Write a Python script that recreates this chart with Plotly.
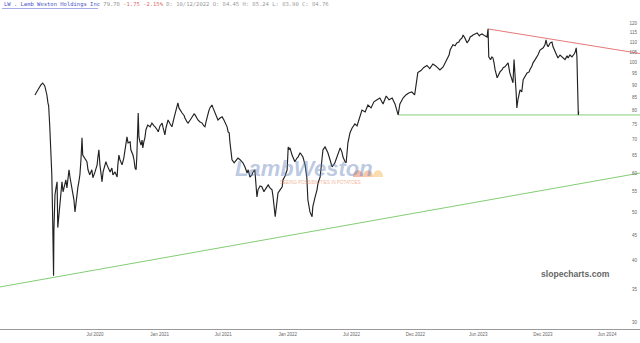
import plotly.graph_objects as go

# ---- price data ----
dates = [
 "2020-01-12","2020-01-18","2020-01-24","2020-01-29","2020-02-03","2020-02-09","2020-02-12","2020-02-15","2020-02-18","2020-02-20",
 "2020-02-23","2020-02-26","2020-02-29","2020-03-02","2020-03-03","2020-03-05","2020-03-06","2020-03-09","2020-03-12","2020-03-15",
 "2020-03-17","2020-03-20","2020-03-23","2020-03-26","2020-03-29","2020-04-01","2020-04-04","2020-04-09","2020-04-12","2020-04-15",
 "2020-04-18","2020-04-21","2020-04-23","2020-04-26","2020-04-29","2020-05-02","2020-05-05","2020-05-08","2020-05-11","2020-05-13",
 "2020-05-16","2020-05-19","2020-05-22","2020-05-25","2020-05-27","2020-06-02","2020-06-08","2020-06-11","2020-06-16","2020-06-22",
 "2020-06-25","2020-07-01","2020-07-07","2020-07-09","2020-07-12","2020-07-15","2020-07-18","2020-07-21","2020-07-24","2020-07-27",
 "2020-08-01","2020-08-04","2020-08-10","2020-08-13","2020-08-18","2020-08-21","2020-08-27","2020-09-02","2020-09-04","2020-09-07",
 "2020-09-10","2020-09-16","2020-09-21","2020-09-24","2020-09-27","2020-09-30","2020-10-03","2020-10-09","2020-10-11","2020-10-17",
 "2020-10-20","2020-10-23","2020-10-26","2020-10-28","2020-11-01","2020-11-03","2020-11-06","2020-11-09","2020-11-12","2020-11-14",
 "2020-11-17","2020-11-20","2020-11-23","2020-11-28","2020-12-05","2020-12-10","2020-12-16","2020-12-19","2020-12-25","2020-12-28",
 "2021-01-02","2021-01-08","2021-01-11","2021-01-16","2021-01-19","2021-01-25","2021-01-31","2021-02-05","2021-02-11","2021-02-14",
 "2021-02-19","2021-02-22","2021-02-25","2021-02-28","2021-03-06","2021-03-12","2021-03-14","2021-03-20","2021-03-23","2021-03-29",
 "2021-04-03","2021-04-09","2021-04-12","2021-04-17","2021-04-20","2021-04-26","2021-05-02","2021-05-07","2021-05-10","2021-05-13",
 "2021-05-16","2021-05-21","2021-05-24","2021-05-30","2021-06-02","2021-06-08","2021-06-13","2021-06-16","2021-06-22","2021-06-28",
 "2021-07-03","2021-07-06","2021-07-12","2021-07-15","2021-07-18","2021-07-20","2021-07-23","2021-07-26","2021-08-01","2021-08-04",
 "2021-08-09","2021-08-12","2021-08-18","2021-08-23","2021-08-26","2021-09-01","2021-09-07","2021-09-10","2021-09-15","2021-09-21",
 "2021-09-24","2021-09-29","2021-10-02","2021-10-05","2021-10-08","2021-10-14","2021-10-19","2021-10-25","2021-10-28","2021-11-03",
 "2021-11-06","2021-11-11","2021-11-17","2021-11-20","2021-11-23","2021-11-26","2021-11-29","2021-12-01","2021-12-04","2021-12-10",
 "2021-12-16","2021-12-18","2021-12-24","2021-12-30","2022-01-02","2022-01-04","2022-01-07","2022-01-13","2022-01-18","2022-01-21",
 "2022-01-27","2022-01-30","2022-02-05","2022-02-10","2022-02-13","2022-02-19","2022-02-24","2022-02-27","2022-03-05","2022-03-11",
 "2022-03-13","2022-03-19","2022-03-25","2022-03-28","2022-04-03","2022-04-08","2022-04-11","2022-04-17","2022-04-22","2022-04-25",
 "2022-05-01","2022-05-07","2022-05-15","2022-05-21","2022-05-24","2022-05-30","2022-06-04","2022-06-07","2022-06-13","2022-06-16",
 "2022-06-21","2022-06-27","2022-07-03","2022-07-11","2022-07-17","2022-07-25","2022-07-31","2022-08-09","2022-08-17","2022-08-26",
 "2022-09-03","2022-09-12","2022-09-20","2022-09-29","2022-10-08","2022-10-16","2022-10-25","2022-11-02","2022-11-11","2022-11-16",
 "2022-11-25","2022-12-03","2022-12-11","2022-12-20","2022-12-28","2023-01-06","2023-01-15","2023-01-23","2023-02-01","2023-02-09",
 "2023-02-18","2023-02-26","2023-03-10","2023-03-19","2023-03-25","2023-03-30","2023-04-05","2023-04-08","2023-04-13","2023-04-16",
 "2023-04-22","2023-04-27","2023-05-03","2023-05-06","2023-05-12","2023-05-15","2023-05-20","2023-05-23","2023-05-26","2023-06-01",
 "2023-06-04","2023-06-10","2023-06-12","2023-06-18","2023-06-24","2023-06-30","2023-07-02","2023-07-08","2023-07-11","2023-07-16",
 "2023-07-22","2023-07-25","2023-07-27","2023-08-01","2023-08-05","2023-08-08","2023-08-11","2023-08-14","2023-08-20","2023-08-23",
 "2023-08-28","2023-09-03","2023-09-06","2023-09-11","2023-09-17","2023-09-20","2023-09-25","2023-10-01","2023-10-04","2023-10-07",
 "2023-10-10","2023-10-13","2023-10-15","2023-10-18","2023-10-24","2023-10-29","2023-11-02","2023-11-07","2023-11-13","2023-11-19",
 "2023-11-21","2023-11-27","2023-11-30","2023-12-06","2023-12-12","2023-12-14","2023-12-20","2023-12-26","2023-12-29","2024-01-03",
 "2024-01-06","2024-01-09","2024-01-12","2024-01-18","2024-01-23","2024-01-26","2024-02-01","2024-02-06","2024-02-09","2024-02-15",
 "2024-02-20","2024-02-26","2024-02-29","2024-03-06","2024-03-09","2024-03-14","2024-03-20","2024-03-26","2024-03-29","2024-04-01",
 "2024-04-03","2024-04-05","2024-04-07","2024-04-08",
]
closes = [
 86.1,87.3,89.0,90.2,91.0,89.8,88.1,86.1,83.0,81.9,
 74.9,66.8,59.5,50.6,42.1,37.3,46.1,54.2,56.0,57.6,
 46.6,49.4,51.8,55.5,57.6,55.0,56.5,58.1,56.0,58.7,
 60.9,58.7,57.6,56.0,55.0,53.0,50.1,53.0,54.2,56.0,
 57.6,59.5,63.8,70.6,65.2,64.3,63.2,60.9,59.5,60.9,
 58.7,60.3,62.3,64.3,66.8,62.3,58.7,57.6,60.3,61.4,
 63.2,62.3,60.9,60.3,61.4,59.5,60.3,58.9,62.3,65.2,
 63.8,62.3,64.3,66.1,68.4,70.9,69.0,69.3,66.8,65.2,
 63.8,61.4,60.9,64.6,79.2,70.9,69.3,68.3,69.9,67.4,
 69.3,70.6,73.3,74.9,74.3,75.6,74.6,74.3,73.3,72.6,
 74.6,75.6,73.9,71.6,73.9,76.7,75.3,74.3,77.4,79.2,
 81.1,83.0,81.1,80.3,79.2,78.2,77.4,76.0,75.6,76.7,
 77.8,78.9,78.5,77.4,76.7,76.0,75.6,74.6,74.3,76.0,
 77.8,80.0,81.1,82.2,81.1,79.2,77.8,76.7,77.4,77.8,
 76.7,76.0,74.3,72.6,72.3,69.3,66.1,63.8,62.9,63.2,
 63.8,64.3,63.8,63.2,62.9,61.7,60.0,60.9,58.9,59.5,
 60.3,60.9,58.1,53.7,55.5,56.5,56.3,55.0,55.5,56.5,
 56.8,56.0,55.5,53.7,51.8,49.0,51.1,53.0,54.7,55.5,
 56.3,58.1,59.2,60.9,67.7,66.8,67.4,65.2,63.8,63.2,
 64.3,64.6,65.9,65.2,64.6,62.3,58.9,53.0,50.1,49.0,
 51.3,53.5,55.5,57.3,58.9,63.8,66.8,67.7,66.8,65.9,
 63.8,61.7,62.9,64.6,65.9,67.4,66.1,64.6,63.2,62.9,
 69.0,72.3,73.9,75.3,74.6,77.4,80.3,79.6,82.2,81.1,
 83.4,84.2,84.9,82.6,85.7,84.2,84.9,82.6,78.5,82.6,
 84.9,86.1,86.9,87.3,86.1,95.5,96.4,97.8,98.7,97.3,
 99.4,98.5,96.7,98.0,99.8,101.2,103.6,106.0,107.6,108.6,
 108.1,109.6,110.0,111.1,112.1,113.7,112.1,110.5,109.6,111.1,
 112.6,113.2,113.7,114.2,114.7,113.2,113.7,114.2,113.7,113.2,
 112.6,116.9,102.7,101.4,102.7,102.2,99.9,96.8,93.2,94.5,
 95.8,96.8,97.7,98.1,99.0,99.9,95.4,92.4,91.1,101.4,
 90.2,86.9,81.1,84.2,88.2,87.3,92.4,93.6,95.3,95.8,
 96.8,98.5,99.9,101.4,102.7,103.6,106.0,106.5,107.1,108.6,
 111.1,108.6,107.6,109.6,110.0,107.6,105.0,103.2,102.2,103.6,
 102.7,101.8,101.4,103.2,102.2,103.6,102.7,104.1,105.0,107.1,
 102.7,89.4,78.5,79.8,
]

# trend lines (start / end points in data units)
support_dates = ["2019-10-04", "2024-09-30"]
support_vals = [35.4, 60.0]
resist_dates = ["2023-07-25", "2024-09-30"]
resist_vals = [116.9, 104.3]
floor_dates = ["2022-11-11", "2024-09-30"]
floor_vals = [78.5, 78.5]

x_tickvals = ["2020-07-01", "2021-01-01", "2021-07-01", "2022-01-01", "2022-07-01",
              "2022-12-30", "2023-06-27", "2023-12-28", "2024-06-28"]
x_ticktext = ["Jul 2020", "Jan 2021", "Jul 2021", "Jan 2022", "Jul 2022",
              "Dec 2022", "Jun 2023", "Dec 2023", "Jun 2024"]
y_tickvals = list(range(30, 125, 5))
y_ticktext = [str(v) for v in y_tickvals]

fig = go.Figure()
fig.add_trace(go.Scatter(x=support_dates, y=support_vals, mode="lines",
                         line=dict(color="rgb(130,205,115)", width=1), hoverinfo="skip"))
fig.add_trace(go.Scatter(x=floor_dates, y=floor_vals, mode="lines",
                         line=dict(color="rgb(130,205,115)", width=1), hoverinfo="skip"))
fig.add_trace(go.Scatter(x=resist_dates, y=resist_vals, mode="lines",
                         line=dict(color="rgb(232,120,120)", width=1), hoverinfo="skip"))
fig.add_trace(go.Scatter(x=dates, y=closes, mode="lines",
                         line=dict(color="#222222", width=1.15)))

W, H = 640, 343
plot_h = 329

def py(ypx):
    return (plot_h - ypx) / plot_h

shapes = []
dome_cols = ["rgba(236,120,85,0.5)", "rgba(240,150,85,0.5)", "rgba(246,185,95,0.5)"]
for i, c in enumerate(dome_cols):
    x0 = (353 + i * 10) / W
    x1 = (363 + i * 10) / W
    yb = py(177)
    yt = py(168)
    shapes.append(dict(type="path", xref="paper", yref="paper",
                       path=f"M {x0},{yb} C {x0},{yt} {x1},{yt} {x1},{yb} Z",
                       fillcolor=c, line=dict(width=0), layer="above"))
# underline of the ticker link in the header
shapes.append(dict(type="line", xref="paper", yref="paper", x0=2 / W, x1=98 / W,
                   y0=py(8.5), y1=py(8.5), line=dict(color="#6a75d8", width=0.6)))

header = ("<span style='color:#4a55c8'>LW . Lamb Weston Holdings Inc</span> "
          "<span style='color:#8a8a8a'>79.78</span> "
          "<span style='color:#e06a6a'>-1.75 -2.15%</span> "
          "<span style='color:#9a9a9a'>D: 10/12/2022 O: 84.45 H: 85.24 L: 83.90 C: 84.76</span>")

annotations = [
    dict(text=header, xref="paper", yref="paper", x=2 / W, y=py(5), xanchor="left",
         yanchor="middle", showarrow=False,
         font=dict(family="DejaVu Sans Mono", size=5.5)),
    dict(text="LambWeston", xref="paper", yref="paper", x=304 / W, y=py(169),
         xanchor="center", yanchor="middle", showarrow=False,
         font=dict(family="Liberation Sans Narrow, Liberation Sans", size=22,
                   color="rgba(105,135,190,0.45)", style="italic", weight="bold")),
    dict(text="SEEING POSSIBILITIES IN POTATOES", xref="paper", yref="paper",
         x=320 / W, y=py(182), xanchor="center", yanchor="middle", showarrow=False,
         font=dict(family="Liberation Sans", size=4.5, color="rgba(235,135,90,0.65)")),
    dict(text="<b>slopecharts.com</b>", xref="paper", yref="paper", x=575 / W, y=py(274),
         xanchor="center", yanchor="middle", showarrow=False,
         font=dict(family="Liberation Sans", size=8.6, color="#666666")),
]

fig.update_layout(
    width=W, height=H,
    margin=dict(l=0, r=0, t=0, b=H - plot_h),
    paper_bgcolor="white", plot_bgcolor="white",
    showlegend=False,
    shapes=shapes,
    annotations=annotations,
    xaxis=dict(type="date", range=["2019-10-04 12:00", "2024-09-29 14:00"],
               tickvals=x_tickvals, ticktext=x_ticktext, showgrid=False, zeroline=False,
               showline=True, linecolor="#9a9a9a", linewidth=1.2, ticks="",
               tickfont=dict(family="Liberation Sans", size=4.5, color="#666")),
    yaxis=dict(type="log", range=[1.46450, 2.12597], side="right",
               ticklabelposition="inside", tickvals=y_tickvals, ticktext=y_ticktext,
               showgrid=False, zeroline=False, showline=False, ticks="",
               tickfont=dict(family="Liberation Sans", size=4.5, color="#666")),
)

fig.write_html("out.html")
